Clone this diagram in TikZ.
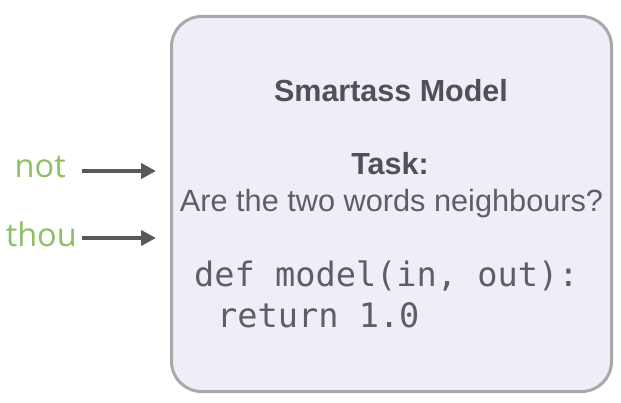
\documentclass[tikz,border=0pt]{standalone}
\usepackage{fontspec}
\setmainfont{Liberation Sans}
\newfontfamily\greenfont{Open Sans}
\newfontfamily\codefont{DejaVu Sans Mono}
\usetikzlibrary{arrows.meta}
\definecolor{boxfill}{HTML}{EFEEF6}
\definecolor{boxline}{HTML}{A9A9AD}
\definecolor{titlecol}{HTML}{505058}
\definecolor{textcol}{HTML}{5E5E66}
\definecolor{wordcol}{HTML}{8CC063}
\definecolor{arrcol}{HTML}{555A5F}
\tikzset{
  modelbox/.style={draw=boxline, fill=boxfill, line width=3pt, rounded corners=30pt, minimum width=440pt, minimum height=375pt, inner sep=0pt},
  titletext/.style={anchor=base, inner sep=0pt, text=titlecol, font=\fontsize{30.5}{36}\selectfont\bfseries},
  plaintext/.style={anchor=base, inner sep=0pt, text=textcol, font=\fontsize{30.7}{36}\selectfont},
  codetext/.style={anchor=base west, inner sep=0pt, text=textcol, font=\codefont\fontsize{33.6}{40}\selectfont},
  wordtext/.style={anchor=base east, inner sep=0pt, text=wordcol, font=\greenfont\fontsize{32.5}{38}\selectfont},
  arr/.style={draw=arrcol, line width=4pt, -{Triangle[length=15pt,width=15pt]}}
}
\begin{document}
\begin{tikzpicture}[x=1pt,y=-1pt]
\useasboundingbox (0,0) rectangle (621,403);
\node[modelbox] (model) at (391.5,204) {};
\node[titletext] (title) at (391,102) {Smartass Model};
\node[titletext] (task) at (390,175) {Task:};
\node[plaintext] (question) at (391.5,212) {Are the two words neighbours?};
\node[codetext] (code1) at (194,287) {def model(in, out):};
\node[codetext] (code2) at (217,327) {return 1.0};
\node[wordtext] (not) at (66,178) {not};
\node[wordtext] (thou) at (77,247) {thou};
\coordinate (nots) at (82,171);
\coordinate (thous) at (82,238);
\draw[arr, shorten >=14pt] (nots) -- (nots -| model.west);
\draw[arr, shorten >=14pt] (thous) -- (thous -| model.west);
\end{tikzpicture}
\end{document}
